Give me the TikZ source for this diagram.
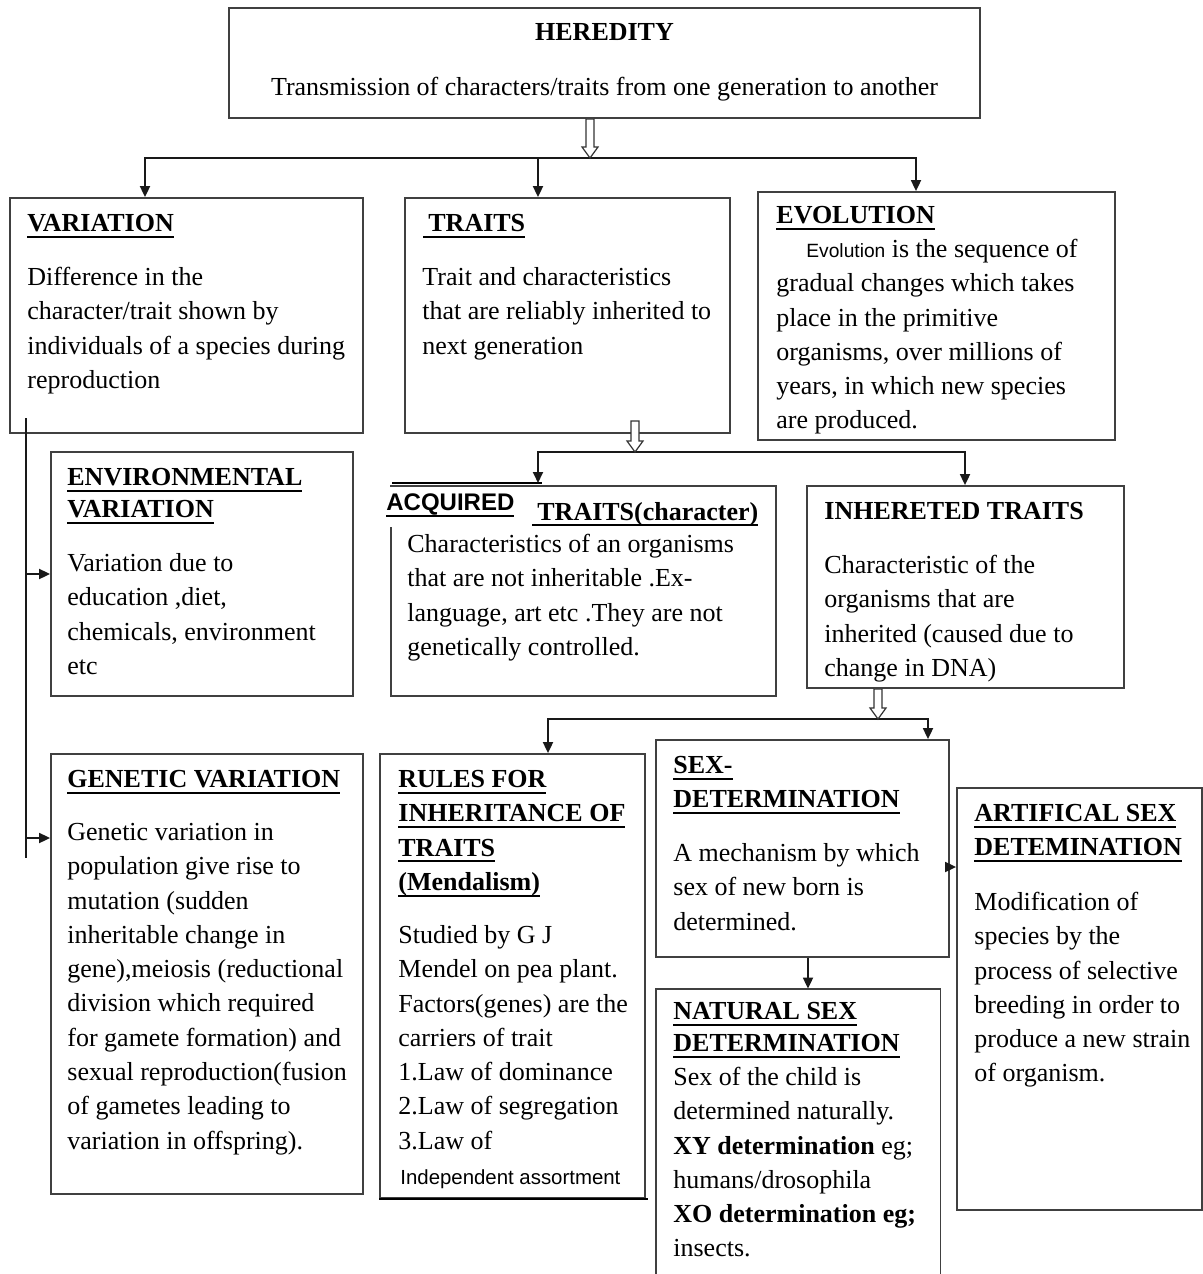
\documentclass[tikz,border=0pt]{standalone}
\usepackage{fontspec}
\setmainfont{Liberation Serif}
\newfontfamily\arialf{Liberation Sans}
\usetikzlibrary{arrows.meta,calc,fit}
\newcommand\bodyfont{\fontsize{13}{17.15}\selectfont}
\newcommand\tstrut{\rule{0pt}{12pt}}
\newsavebox\myulbox
\newcommand\myul[1]{\sbox\myulbox{#1}\rlap{\rule[-3.1pt]{\wd\myulbox}{0.9pt}}\usebox\myulbox}
\newcommand\myulthick[1]{\sbox\myulbox{#1}\rlap{\rule[-3.6pt]{\wd\myulbox}{1.2pt}}\usebox\myulbox}
\newcommand\hollowarrow[2]{%
  \draw[hollow] ($(#1)+(-4,0)$) -- ($(#2)+(-4,-11)$) -- ($(#2)+(-8,-11)$) -- (#2)
    -- ($(#2)+(8,-11)$) -- ($(#2)+(4,-11)$) -- ($(#1)+(4,0)$) -- cycle;}
\tikzset{
  box/.style={draw=black!75, line width=0.9pt, inner sep=0pt},
  boxline/.style={draw=black!75, line width=0.9pt},
  txt/.style={inner sep=0pt, anchor=north west, align=left, font=\bodyfont},
  ttl/.style={txt, font=\bodyfont\bfseries},
  conn/.style={draw=black!90, line width=0.9pt},
  arr/.style={conn, -{Triangle[length=5.5pt,width=5pt]}},
  hollow/.style={draw=black!80, line width=0.6pt, fill=white}
}
\begin{document}
\begin{tikzpicture}[x=0.5pt,y=-0.5pt]
\useasboundingbox (0,0) rectangle (1203,1274);
\fill[white] (0,0) rectangle (1203,1274);

% ---------- boxes ----------
\node[box, fit={(229,8)(980,118)}] (her) {};
\node[box, fit={(10,198)(363,433)}] (var) {};
\node[box, fit={(405,198)(730,433)}] (tra) {};
\node[box, fit={(758,192)(1115,440)}] (evo) {};
\node[box, fit={(51,452)(353,696)}] (env) {};
\node[box, fit={(391,486)(776,696)}] (acq) {};
\node[box, fit={(807,486)(1124,688)}] (inh) {};
\node[box, fit={(51,754)(363,1194)}] (gen) {};
\node[box, fit={(380,754)(645,1198)}] (rul) {};
\node[box, fit={(656,740)(949,957)}] (sex) {};
\node[inner sep=0pt, fit={(656,989)(940,1285)}] (nat) {};
\draw[boxline] (nat.south west) -- (nat.north west) -- (nat.north east) -- (nat.south east);
\node[box, fit={(957,788)(1202,1210)}] (art) {};
\draw[line width=1.3pt] (rul.south west) -- ($(rul.south east)+(2,0)$);

% ---------- HEREDITY ----------
\node[anchor=base, inner sep=0pt, font=\bodyfont\bfseries] (herT) at (604.5,40) {HEREDITY};
\node[anchor=base, inner sep=0pt, font=\bodyfont] (herB) at (604.5,95) {Transmission of characters/traits from one generation to another};

% ---------- VARIATION ----------
\node[ttl] (varT) at (27,207) {\tstrut\myul{VARIATION}};
\node[txt] (varB) at (27,261) {\tstrut Difference in the\\character/trait shown by\\individuals of a species during\\reproduction};

% ---------- TRAITS ----------
\node[ttl] (traT) at (423,207) {\tstrut\myul{\hspace{2.5pt}TRAITS}};
\node[txt] (traB) at (422,261) {\tstrut Trait and characteristics\\that are reliably inherited to\\next generation};

% ---------- EVOLUTION ----------
\node[ttl] (evoT) at (776,199) {\tstrut\myul{EVOLUTION}};
\node[txt] (evoB) at (776,233) {\tstrut\hspace*{15pt}{\arialf\fontsize{9.6}{11}\selectfont Evolution} is the sequence of\\gradual changes which takes\\place in the primitive\\organisms, over millions of\\years, in which new species\\are produced.};

% ---------- ENVIRONMENTAL ----------
\node[ttl, font=\fontsize{13}{16}\selectfont\bfseries] (envT) at (67,461) {\tstrut\myul{ENVIRONMENTAL}\\\myul{VARIATION}};
\node[txt] (envB) at (67,547) {\tstrut Variation due to\\education ,diet,\\chemicals, environment\\etc};

% ---------- ACQUIRED ----------
\fill[white] (385,487) rectangle (530,527);
\coordinate (acq1) at (392,483);
\coordinate (acq2) at (542,483);
\draw[line width=1pt] (acq1) -- (acq2);
\node[anchor=base west, inner sep=0pt, font=\arialf\bfseries\fontsize{12}{14}\selectfont] (acqL) at (386,510) {\myulthick{ACQUIRED}};
\node[anchor=base west, inner sep=0pt, font=\bodyfont\bfseries] (acqT) at (532,520) {\myul{\hspace{2.5pt}TRAITS(character)}};
\node[txt] (acqB) at (407,528) {\tstrut Characteristics of an organisms\\that are not inheritable .Ex-\\language, art etc .They are not\\genetically controlled.};

% ---------- INHERITED ----------
\node[anchor=base west, inner sep=0pt, font=\bodyfont\bfseries] (inhT) at (824,519) {INHERETED TRAITS};
\node[txt] (inhB) at (824,549) {\tstrut Characteristic of the\\organisms that are\\inherited (caused due to\\change in DNA)};

% ---------- GENETIC ----------
\node[ttl] (genT) at (67,763) {\tstrut\myul{GENETIC VARIATION}};
\node[txt] (genB) at (67,816) {\tstrut Genetic variation in\\population give rise to\\mutation (sudden\\inheritable change in\\gene),meiosis (reductional\\division which required\\for gamete formation) and\\sexual reproduction(fusion\\of gametes leading to\\variation in offspring).};

% ---------- RULES ----------
\node[ttl] (rulT) at (398,763) {\tstrut\myul{RULES FOR}\\\myul{INHERITANCE OF}\\\myul{TRAITS}\\\myul{(Mendalism)}};
\node[txt] (rulB) at (398,919) {\tstrut Studied by G J\\Mendel on pea plant.\\Factors(genes) are the\\carriers of trait\\1.Law of dominance\\2.Law of segregation\\3.Law of};
\node[anchor=base west, inner sep=0pt, font=\arialf\fontsize{10.2}{12}\selectfont] (rulI) at (400,1184) {Independent assortment};

% ---------- SEX ----------
\node[ttl] (sexT) at (673,749) {\tstrut\myul{SEX-}\\\myul{DETERMINATION}};
\node[txt] (sexB) at (673,837) {\tstrut A mechanism by which\\sex of new born is\\determined.};

% ---------- NATURAL ----------
\node[ttl, font=\fontsize{13}{16}\selectfont\bfseries] (natT) at (673,995) {\tstrut\myul{NATURAL SEX}\\\myul{DETERMINATION}};
\node[txt] (natB) at (673,1061) {\tstrut Sex of the child is\\determined naturally.\\\textbf{XY determination} eg;\\humans/drosophila\\\textbf{XO determination eg;}\\insects.};

% ---------- ARTIFICAL ----------
\node[ttl] (artT) at (974,797) {\tstrut\myul{ARTIFICAL SEX}\\\myul{DETEMINATION}};
\node[txt] (artB) at (974,886) {\tstrut Modification of\\species by the\\process of selective\\breeding in order to\\produce a new strain\\of organism.};

% ---------- connectors ----------
% level 1
\coordinate (hb) at (590,158);
\coordinate (b1L) at (145,158);
\coordinate (b1M) at (538,158);
\coordinate (b1R) at (916,158);
\draw[arr] (hb) -| (b1L |- var.north);
\draw[arr] (hb) -| (b1R |- evo.north);
\draw[arr] (b1M) -- (b1M |- tra.north);
\coordinate (hs) at (her.south -| hb);
\hollowarrow{hs}{hb}

% level 2
\coordinate (tb) at (635,452);
\coordinate (ts) at (635,421);
\coordinate (acqIn) at (538,483);
\coordinate (b2R) at (965,452);
\draw[arr] (tb) -| (acqIn);
\draw[arr] (tb) -| (b2R |- inh.north);
\hollowarrow{ts}{tb}

% left spine
\coordinate (vt) at (26,418);
\coordinate (vb) at (26,858);
\coordinate (ga) at (0,838);
\draw[conn] (vt) -- (vb);
\draw[arr] (vt |- env.west) -- (env.west);
\draw[arr] (vt |- ga) -- (gen.west |- ga);

% level 3
\coordinate (ib) at (878,719);
\coordinate (b3L) at (548,719);
\coordinate (b3R) at (928,719);
\draw[arr] (ib) -| (b3L |- rul.north);
\draw[arr] (ib) -| (b3R |- sex.north);
\coordinate (ihs) at (inh.south -| ib);
\hollowarrow{ihs}{ib}

% sex determination branches
\coordinate (sn) at (808,0);
\draw[arr] (sex.south -| sn) -- (nat.north -| sn);
\coordinate (sa) at (0,867);
\draw[arr] (sex.east |- sa) -- (art.west |- sa);
\end{tikzpicture}
\end{document}
